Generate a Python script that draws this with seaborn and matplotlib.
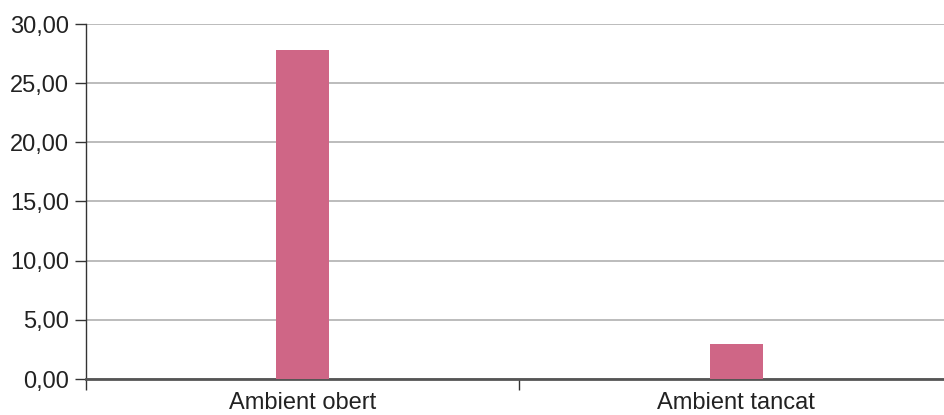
import matplotlib
matplotlib.use("Agg")
import matplotlib.pyplot as plt
import seaborn as sns
import pandas as pd

# chart data
categories = ["Ambient obert", "Ambient tancat"]
values = [27.8, 2.95]
y_ticks = [0, 5, 10, 15, 20, 25, 30]

bar_color = "#CF6686"

sns.set_style("white")
plt.rcParams["font.family"] = ["Liberation Sans", "DejaVu Sans"]

df = pd.DataFrame({"categoria": categories, "valor": values})

fig = plt.figure(figsize=(9.45, 4.15), dpi=100)
# the plot area runs a little past the right edge of the image
ax = fig.add_axes([86 / 945, 36 / 415, 867 / 945, 355 / 415])

sns.barplot(data=df, x="categoria", y="valor", color=bar_color,
            width=0.122, saturation=1, linewidth=0, ax=ax, zorder=3)

ax.set_ylim(0, 30)
ax.set_xlim(-0.5, 1.5)
ax.set_yticks(y_ticks)
ax.set_yticklabels([f"{v:.2f}".replace(".", ",") for v in y_ticks])

# category labels at centres, tick marks at the boundaries
ax.set_xticks([-0.5, 0.5, 1.5])
ax.set_xticklabels([])
ax.set_xticks([0, 1], minor=True)
ax.set_xticklabels(categories, minor=True)
ax.tick_params(axis="x", which="minor", bottom=True, length=0, pad=9,
               labelsize=17, labelcolor="#222222")
ax.tick_params(axis="x", which="major", bottom=True, length=8, width=1,
               color="#333333", direction="out")
ax.tick_params(axis="y", left=True, length=8, width=1, color="#333333",
               direction="out", labelsize=17, labelcolor="#222222", pad=4)

ax.yaxis.grid(True, color="#B0B0B0", linewidth=1.2, zorder=0)
ax.set_axisbelow(True)

for side in ["top", "right"]:
    ax.spines[side].set_visible(False)
ax.spines["left"].set_color("#333333")
ax.spines["left"].set_linewidth(1)
ax.spines["bottom"].set_color("#555555")
ax.spines["bottom"].set_linewidth(2)

ax.set_xlabel("")
ax.set_ylabel("")

fig.savefig("out.png", dpi=100)
